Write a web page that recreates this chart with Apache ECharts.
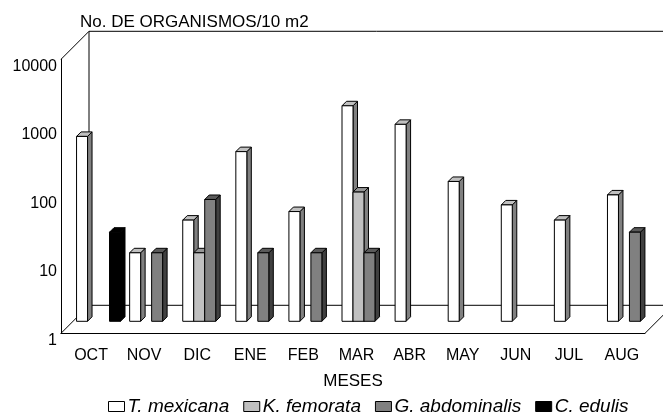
<!DOCTYPE html>
<html>
<head>
<meta charset="utf-8">
<script src="https://cdn.jsdelivr.net/npm/echarts@6/dist/echarts.min.js"></script>
<style>html,body{margin:0;padding:0;background:#fff;}#c{width:663px;height:419px;}</style>
</head>
<body>
<div id="c"></div>
<script>
// ---- data ----
var months = ['OCT','NOV','DIC','ENE','FEB','MAR','ABR','MAY','JUN','JUL','AUG'];
var tMexicana    = [500, 10, 30, 300, 40, 1400, 750, 110, 50, 30, 70];
var kFemorata    = [null, null, 10, null, null, 77, null, null, null, null, null];
var gAbdominalis = [null, 10, 60, 10, 10, 10, null, null, null, null, 20];
var cEdulis      = [20, null, null, null, null, null, null, null, null, null, null];
var yTicks = [1, 10, 100, 1000, 10000];
var speciesNames = ['T. mexicana', 'K. femorata', 'G. abdominalis', 'C. edulis'];

var FONT = "'Liberation Sans', Arial, sans-serif";
var palettes = [
  {front:'#ffffff', top:'#c0c0c0', side:'#808080'},
  {front:'#c0c0c0', top:'#969696', side:'#808080'},
  {front:'#808080', top:'#5a5a5a', side:'#404040'},
  {front:'#000000', top:'#000000', side:'#000000'}
];
var FRAME_D = 28;     // depth of the 3D box
var BAR_OY = 12;      // bar plane offset
var BAR_T = 4.5;      // bar depth

function toPairs(arr){
  var out = [];
  arr.forEach(function(v,i){ if (v != null) out.push([i, v]); });
  return out;
}

function barRenderer(slot){
  var pal = palettes[slot];
  return function(params, api){
    var i = api.value(0), v = api.value(1);
    var band = api.size([1, 0])[0];
    var w = band * 0.207;
    var c = api.coord([i, v]);
    var b = api.coord([i, yTicks[0]]);
    var x0 = c[0] + (slot - 1) * w;
    var yt = c[1] - BAR_OY, yb = b[1] - BAR_OY;
    var t = BAR_T;
    var st = {stroke:'#000', lineWidth:1};
    return {type:'group', children:[
      {type:'polygon', shape:{points:[[x0+w,yt],[x0+w+t,yt-t],[x0+w+t,yb-t],[x0+w,yb]]},
        style:Object.assign({fill:pal.side}, st)},
      {type:'polygon', shape:{points:[[x0,yt],[x0+w,yt],[x0+w+t,yt-t],[x0+t,yt-t]]},
        style:Object.assign({fill:pal.top}, st)},
      {type:'rect', shape:{x:x0, y:yt, width:w, height:yb-yt},
        style:Object.assign({fill:pal.front}, st)}
    ]};
  };
}

function frameRenderer(params, api){
  var cs = params.coordSys;
  var L = cs.x, R = cs.x + cs.width, T = cs.y, B = cs.y + cs.height, d = FRAME_D;
  var st = {stroke:'#000', lineWidth:1, fill:null};
  return {type:'group', children:[
    {type:'polyline', shape:{points:[[L,T],[L+d,T-d],[R+d,T-d]]}, style:st},
    {type:'polyline', shape:{points:[[L+d,T-d],[L+d,B-d],[R+d,B-d]]}, style:st},
    {type:'line', shape:{x1:L, y1:B, x2:L+d, y2:B-d}, style:st},
    {type:'line', shape:{x1:R, y1:B, x2:R+d, y2:B-d}, style:st}
  ]};
}

var seriesData = [tMexicana, kFemorata, gAbdominalis, cEdulis];
var series = [{
  type:'custom', name:'frame', renderItem: frameRenderer, data:[[0, 1]], z:1, silent:true, clip:false
}];
seriesData.forEach(function(arr, s){
  series.push({
    type:'custom', name: speciesNames[s], renderItem: barRenderer(s), data: toPairs(arr),
    z: 2, clip:false,
    itemStyle:{color: palettes[s].front, borderColor:'#000', borderWidth:1}
  });
});

var chart = echarts.init(document.getElementById('c'), null, {renderer:'canvas'});
chart.setOption({
  animation:false,
  backgroundColor:'#fff',
  textStyle:{fontFamily:FONT, color:'#000'},
  title:{text:'No. DE ORGANISMOS/10 m2', left:75, top:9,
    textStyle:{fontFamily:FONT, fontSize:17, fontWeight:'normal', color:'#000'}},
  grid:{left:61, right:18, top:59.3, bottom:85.7, containLabel:false},
  xAxis:{type:'category', data:months, boundaryGap:true,
    name:'MESES', nameLocation:'middle', nameGap:40,
    nameTextStyle:{fontFamily:FONT, fontSize:17, color:'#000'},
    axisLine:{show:true, lineStyle:{color:'#000', width:1}},
    axisTick:{show:false},
    axisLabel:{fontFamily:FONT, fontSize:16, color:'#000', margin:14, padding:[0,0,0,7], interval:0},
    splitLine:{show:false}},
  yAxis:{type:'log', logBase:10, min:yTicks[0], max:yTicks[yTicks.length-1],
    axisLine:{show:true, lineStyle:{color:'#000', width:1}},
    axisTick:{show:false},
    axisLabel:{fontFamily:FONT, fontSize:16, color:'#000', margin:4,
      verticalAlign:'top', lineHeight:14,
      formatter:function(v){ return String(Math.round(v)); }},
    splitLine:{show:false}},
  legend:{data: speciesNames.map(function(n, s){
      return {name:n, icon:'rect', itemStyle:{color:palettes[s].front, borderColor:'#000', borderWidth:1}};
    }),
    left:103, top:392, itemWidth:16, itemHeight:10, itemGap:14,
    textStyle:{fontFamily:FONT, fontSize:19, fontStyle:'italic', color:'#000', padding:[0,0,0,-2]}},
  series: series
});
</script>
</body>
</html>
